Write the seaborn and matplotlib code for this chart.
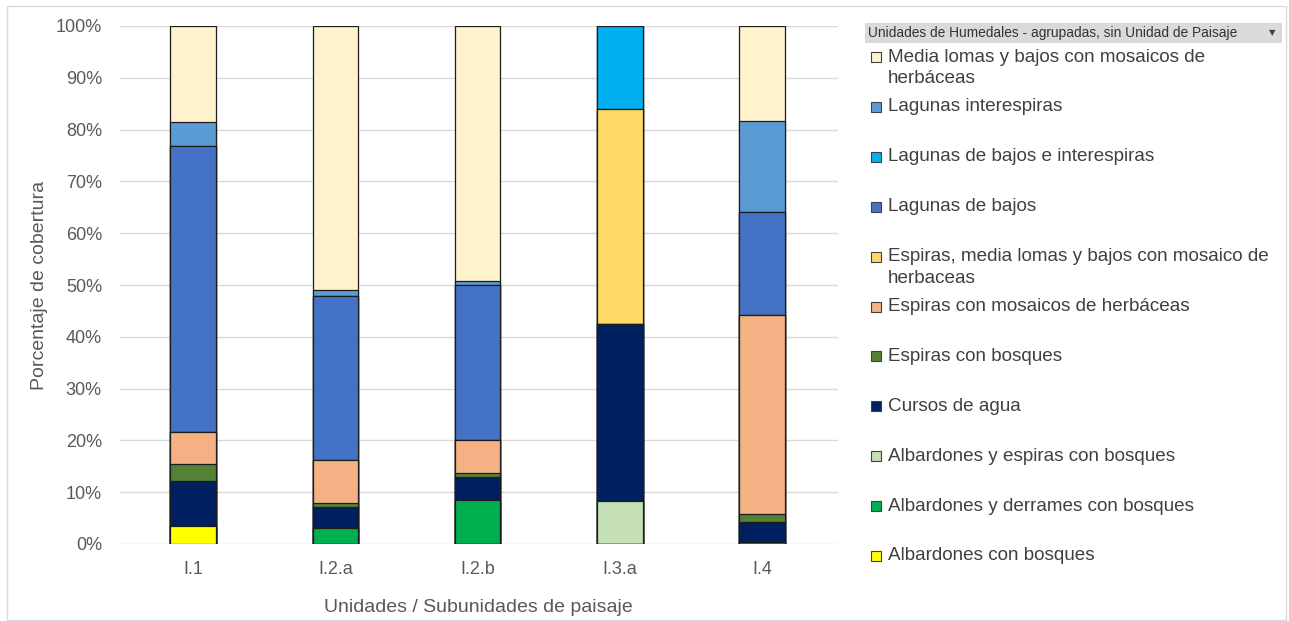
import numpy as np
import pandas as pd
import seaborn as sns
import matplotlib
matplotlib.use("Agg")
import matplotlib.pyplot as plt
from matplotlib.patches import Rectangle

# ---------------- data ----------------
units = ["I.1", "I.2.a", "I.2.b", "I.3.a", "I.4"]

# series listed bottom -> top of the stack
series_names = [
    "Albardones con bosques",
    "Albardones y derrames con bosques",
    "Albardones y espiras con bosques",
    "Cursos de agua",
    "Espiras con bosques",
    "Espiras con mosaicos de herbáceas",
    "Espiras, media lomas y bajos con mosaico de\nherbaceas",
    "Lagunas de bajos",
    "Lagunas de bajos e interespiras",
    "Lagunas interespiras",
    "Media lomas y bajos con mosaicos de\nherbáceas",
]

albardones_bosques = [3.4, 0.0, 0.0, 0.0, 0.0]
albardones_derrames = [0.0, 3.1, 8.5, 0.0, 0.4]
albardones_espiras = [0.0, 0.0, 0.0, 8.3, 0.0]
cursos_agua = [8.8, 4.1, 4.4, 34.2, 3.9]
espiras_bosques = [3.2, 0.8, 0.9, 0.0, 1.5]
espiras_mosaicos = [6.3, 8.2, 6.3, 0.0, 38.4]
espiras_media_lomas = [0.0, 0.0, 0.0, 41.5, 0.0]
lagunas_bajos = [55.1, 31.7, 29.9, 0.0, 19.9]
lagunas_bajos_interespiras = [0.0, 0.0, 0.0, 16.0, 0.0]
lagunas_interespiras = [4.7, 1.1, 0.8, 0.0, 17.6]
media_lomas = [18.5, 51.0, 49.2, 0.0, 18.3]

series_values = [
    albardones_bosques, albardones_derrames, albardones_espiras, cursos_agua,
    espiras_bosques, espiras_mosaicos, espiras_media_lomas, lagunas_bajos,
    lagunas_bajos_interespiras, lagunas_interespiras, media_lomas,
]

colors = [
    "#FFFF00", "#00B050", "#C5E0B4", "#002060", "#548235", "#F4B183",
    "#FFD966", "#4472C4", "#00B0F0", "#5B9BD5", "#FFF2CC",
]

y_ticks = list(range(0, 101, 10))
y_tick_labels = [f"{v}%" for v in y_ticks]

legend_title = "Unidades de Humedales - agrupadas, sin Unidad de Paisaje"
x_label = "Unidades / Subunidades de paisaje"
y_label = "Porcentaje de cobertura"

# ---------------- plot ----------------
sns.set_theme(style="white")
plt.rcParams["font.family"] = ["Liberation Sans", "DejaVu Sans"]

W, H = 1289, 621
fig = plt.figure(figsize=(W / 100, H / 100), dpi=100)


def fx(px):
    return px / W


def fy(py):
    return 1 - py / H


ax = fig.add_axes([fx(120), fy(544), (838 - 120) / W, (544 - 26) / H])

# 100% stacked bars: totals normalised, drawn as overlapping cumulative bars
vals = np.array(series_values, dtype=float)
vals = vals / vals.sum(axis=0, keepdims=True) * 100
cum = np.cumsum(vals, axis=0)

for i in reversed(range(len(series_names))):
    d = pd.DataFrame({"unit": units, "val": cum[i]})
    sns.barplot(data=d, x="unit", y="val", order=units, color=colors[i],
                saturation=1, width=0.32, edgecolor="#1c1c1c", linewidth=0.9,
                errorbar=None, ax=ax)

ax.set_xlim(-0.513, 4.533)
ax.set_ylim(0, 100)
ax.set_yticks(y_ticks)
ax.set_yticklabels(y_tick_labels)
ax.yaxis.grid(True, color="#D9D9D9", linewidth=1.0)
ax.xaxis.grid(False)
ax.set_axisbelow(True)
for s in ax.spines.values():
    s.set_visible(False)
ax.tick_params(axis="y", length=0, pad=13, labelsize=13, labelcolor="#595959")
ax.tick_params(axis="x", length=0, pad=12, labelsize=13, labelcolor="#595959")

ax.set_xlabel(x_label, fontsize=14, color="#595959", va="center")
ax.xaxis.set_label_coords((478 - 120) / 718, (544 - 607) / 518)
ax.set_ylabel(y_label, fontsize=14, color="#595959", va="center")
ax.yaxis.set_label_coords((40 - 120) / 718, 0.5)

# ---------------- legend (drawn manually, Excel-like) ----------------
fig.add_artist(Rectangle((fx(865), fy(43)), (1282 - 865) / W, 20 / H,
                         transform=fig.transFigure, facecolor="#DADADA",
                         edgecolor="none"))
fig.text(fx(868), fy(33), legend_title, fontsize=9.9, color="#333333",
         va="center", ha="left")
fig.text(fx(1272), fy(33), "▼", fontsize=6, color="#404040",
         va="center", ha="center", family=["DejaVu Sans"])

row0, step = 57, 49.9
for k, i in enumerate(reversed(range(len(series_names)))):
    ry = row0 + k * step
    fig.add_artist(Rectangle((fx(871), fy(ry + 5)), 10 / W, 10 / H,
                             transform=fig.transFigure, facecolor=colors[i],
                             edgecolor="#404040", linewidth=0.8))
    for j, line in enumerate(series_names[i].split("\n")):
        fig.text(fx(888), fy(ry + j * 21.5), line, fontsize=13.6,
                 color="#404040", va="center", ha="left")

# outer frame
fig.add_artist(Rectangle((fx(7), fy(620)), (1286 - 7) / W, (620 - 6) / H,
                         transform=fig.transFigure, fill=False,
                         edgecolor="#D9D9D9", linewidth=1))

fig.savefig("out.png", dpi=100)
